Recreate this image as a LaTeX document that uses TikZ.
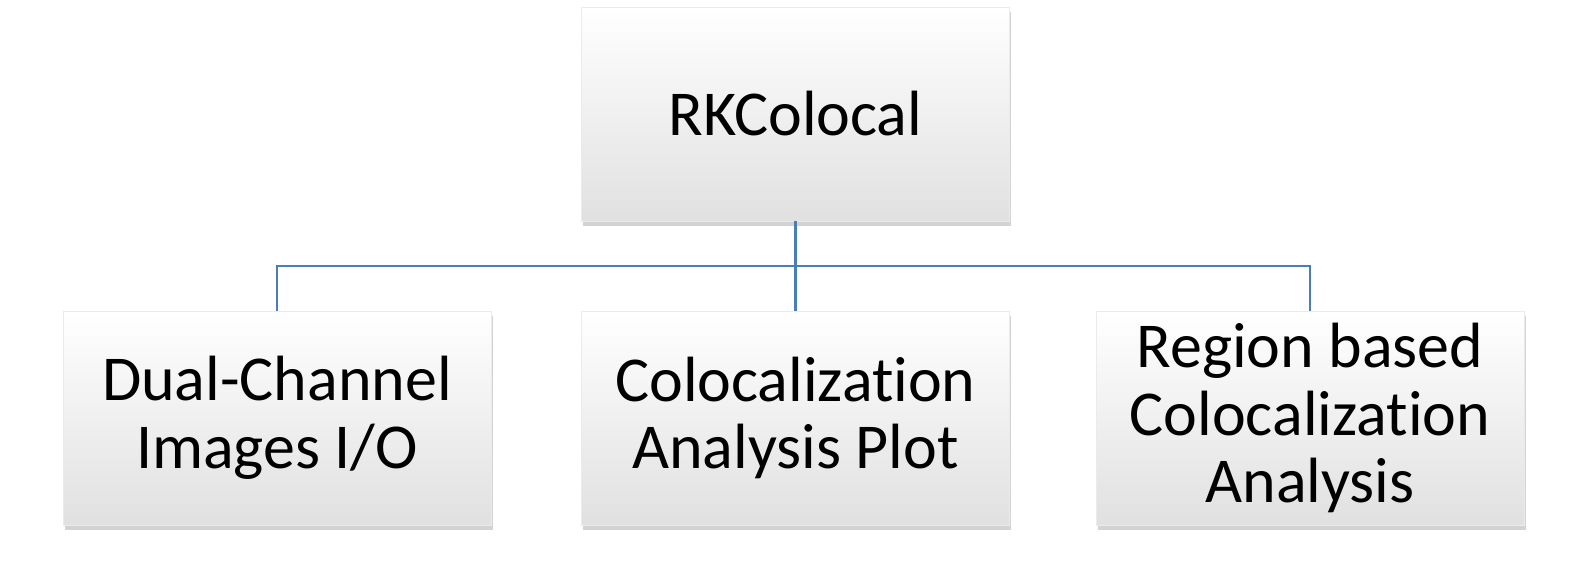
\documentclass[tikz,border=0pt]{standalone}
\usepackage{fontspec}
\setmainfont[Ligatures={NoCommon}]{Carlito}
\usetikzlibrary{shadows}
\definecolor{linkblue}{RGB}{74,126,187}
\begin{document}
\begin{tikzpicture}[
    box/.style={rectangle, minimum width=4.28cm, minimum height=2.14cm, inner sep=0pt,
        align=center, font=\fontsize{18.2}{19.3}\selectfont,
        top color=white, middle color=white, bottom color=black!12,
        draw=black!8, line width=0.2pt,
        drop shadow={opacity=0.35, shadow xshift=0.5pt, shadow yshift=-1.5pt}},
    link/.style={draw=linkblue, line width=0.6pt}
    ]
    \useasboundingbox (0,0) rectangle (15.91,5.73);

    \node[box] (root) at (7.955,4.59) {RKColocal};
    \node[box] (dual) at (2.77,1.55) {Dual-Channel\\Images I/O};
    \node[box] (plot) at (7.955,1.55) {Colocalization\\Analysis Plot};
    \node[box] (region) at (13.10,1.55) {Region based\\Colocalization\\Analysis};

    \coordinate (bus) at (7.955,3.07);
    \draw[link] (root.south) -- (bus);
    \draw[link] (bus) -| (dual.north);
    \draw[link] (bus) -- (plot.north);
    \draw[link] (bus) -| (region.north);
\end{tikzpicture}
\end{document}
